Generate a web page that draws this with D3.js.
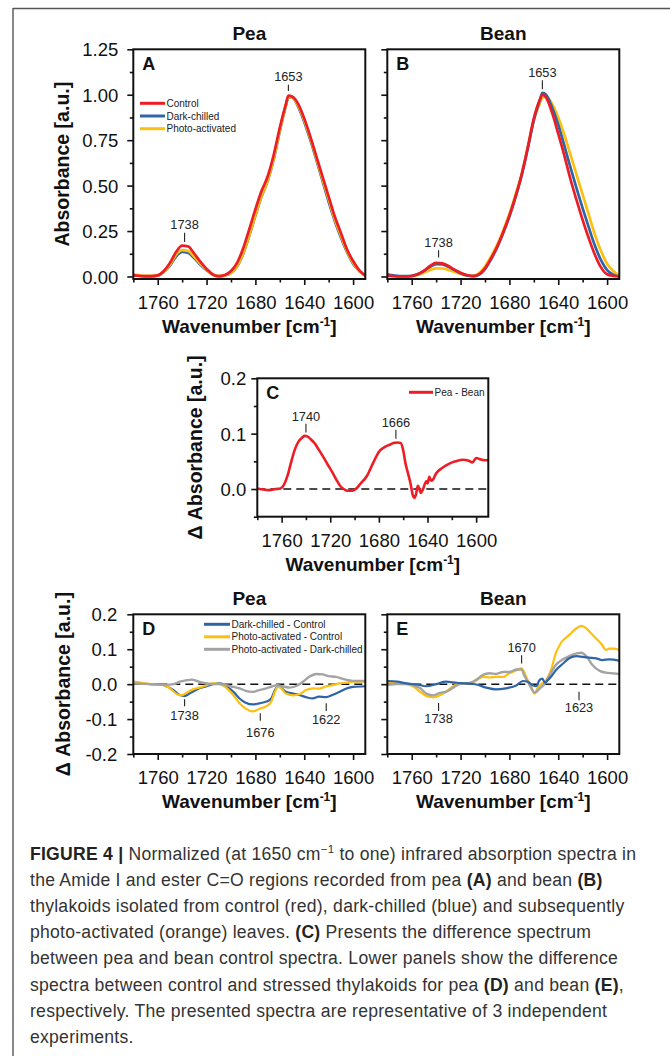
<!DOCTYPE html>
<html>
<head>
<meta charset="utf-8">
<script src="https://cdn.jsdelivr.net/npm/d3@7"></script>
<style>
body{margin:0;background:#fff;}
svg{display:block;}
text{font-family:"Liberation Sans",Arial,Helvetica,sans-serif;}
</style>
</head>
<body>
<svg id="fig" width="670" height="1056"></svg>
<script>
// ---------- data ----------
const wnAB = [1780,1775,1770,1765,1760,1755,1750,1745,1740,1735,1730,1725,1720,1715,1710,1705,1700,1695,1690,1685,
              1680,1675,1670,1665,1660,1655,1653,1650,1645,1640,1635,1630,1625,1620,1615,1610,1605,1600,1595,1590];

// A - pea
const peaControl = [.008,.004,.002,.002,.006,.03,.075,.135,.17,.165,.125,.08,.042,.012,.002,.008,.03,.075,.155,.26,
                    .37,.47,.55,.67,.82,.95,.995,.99,.95,.87,.77,.66,.55,.44,.33,.24,.15,.085,.035,.005];
const peaDark    = [.006,.003,.001,.001,.005,.025,.06,.11,.135,.13,.1,.065,.035,.01,.001,.006,.02,.055,.125,.225,
                    .335,.44,.525,.645,.8,.94,.985,.985,.935,.85,.75,.64,.525,.41,.305,.215,.135,.07,.03,.005];
const peaPhoto   = [.01,.006,.003,.003,.006,.027,.065,.12,.145,.14,.108,.07,.038,.011,.002,.006,.02,.057,.128,.228,
                    .338,.443,.528,.65,.805,.943,.988,.985,.94,.86,.76,.65,.535,.425,.315,.225,.14,.075,.03,.005];
// B - bean
const beanControl = [.005,.002,0,0,.002,.012,.032,.058,.075,.072,.058,.038,.02,.008,.002,.012,.045,.1,.165,.245,
                     .335,.44,.56,.71,.87,.975,1.0,.985,.9,.785,.665,.535,.42,.31,.21,.12,.05,.012,.003,0];
const beanDark    = [.012,.006,.002,.002,.004,.013,.03,.053,.068,.066,.053,.035,.018,.006,.002,.01,.04,.095,.16,.24,
                     .33,.435,.555,.7,.86,.97,1.01,1.0,.93,.835,.72,.6,.485,.375,.27,.17,.09,.035,.01,0];
const beanPhoto   = [.004,.002,0,0,.002,.008,.02,.035,.045,.044,.036,.025,.014,.006,.003,.018,.055,.11,.175,.255,
                     .345,.45,.565,.71,.86,.955,.985,.99,.95,.875,.78,.67,.56,.45,.34,.23,.14,.07,.03,.005];

// C - pea minus bean (control)
const peaMinusBean = [[1780,.001],[1775,-.001],[1770,-.002],[1765,0],[1761,.001],[1758,.008],[1755,.025],[1752,.05],
  [1749,.072],[1746,.086],[1743,.093],[1741,.096],[1739,.095],[1736,.09],[1733,.083],[1730,.073],[1726,.059],
  [1722,.044],[1718,.029],[1715,.017],[1712,.006],[1709,0],[1706,-.003],[1702,-.003],[1699,0],[1695,.01],
  [1690,.023],[1685,.046],[1680,.067],[1675,.076],[1671,.08],[1668,.083],[1665,.084],[1662,.083],[1660,.07],
  [1658,.045],[1656,.028],[1654,.01],[1652,-.012],[1651,-.016],[1649.5,-.01],[1648,.006],[1647,.002],
  [1645.5,-.007],[1644,-.002],[1641,.014],[1640,.01],[1638.5,.022],[1637,.015],[1635.5,.017],[1633,.028],
  [1628,.038],[1622,.046],[1617,.05],[1611,.053],[1606,.051],[1603,.048],[1600,.056],[1597,.054],[1593,.052],[1590,.052]];

// D - pea difference spectra
const peaDarkMinusControl = [[1780,.007],[1766,0],[1758,0],[1753,-.006],[1747,-.017],[1742,-.031],[1738,-.034],
  [1734,-.027],[1728,-.015],[1720,-.006],[1715,0],[1709,.002],[1704,-.006],[1698,-.022],[1693,-.041],[1688,-.053],
  [1682,-.058],[1677,-.055],[1671,-.05],[1667,-.041],[1664,-.017],[1661.6,-.006],[1659,-.01],[1655,-.022],
  [1649,-.027],[1644,-.031],[1638,-.038],[1633,-.041],[1628,-.036],[1622,-.037],[1617,-.031],[1611,-.022],
  [1606,-.013],[1600,-.008],[1590,-.006]];
const peaPhotoMinusControl = [[1780,.007],[1766,0],[1755,-.003],[1750,-.012],[1745,-.027],[1740.5,-.032],
  [1736.5,-.025],[1731,-.015],[1726,-.01],[1720,-.003],[1715,.002],[1709,0],[1704,-.01],[1698,-.032],[1693,-.055],
  [1688,-.07],[1682,-.078],[1677,-.071],[1671,-.063],[1667,-.05],[1664,-.022],[1661.6,-.008],[1659,-.012],
  [1655,-.027],[1649,-.032],[1644,-.029],[1638.5,-.017],[1633,-.012],[1628,-.013],[1622,-.006],[1617,-.003],
  [1611,.002],[1606,.004],[1600,.007],[1590,.007]];
const peaPhotoMinusDark = [[1780,.002],[1766,0],[1753,-.002],[1747,0],[1742,.007],[1736.5,.011],[1732,.013],
  [1728,.009],[1723,.004],[1715,0],[1709,0],[1704,-.003],[1698,-.008],[1693,-.012],[1688,-.019],[1682,-.022],
  [1677,-.017],[1671,-.012],[1666,-.006],[1662,-.003],[1658,-.006],[1652,-.01],[1647,-.006],[1641,.007],
  [1636,.021],[1630,.029],[1625,.028],[1620,.023],[1614,.021],[1609,.016],[1603,.011],[1598,.009],[1590,.009]];

// E - bean difference spectra
const beanDarkMinusControl = [[1780,.009],[1772,.007],[1764,.002],[1756,-.001],[1748,-.006],[1740,0],[1732,.007],
  [1723,.004],[1715,.002],[1707,-.001],[1699,-.01],[1691,-.015],[1683,-.012],[1674,-.003],[1669,.009],[1665,.007],
  [1661,-.003],[1658,-.006],[1655.4,.011],[1653,.016],[1651,.004],[1648.6,.011],[1646,.021],[1642,.04],[1636,.059],
  [1631,.074],[1625,.08],[1620,.078],[1615,.076],[1609,.074],[1604,.069],[1598,.071],[1590,.067]];
const beanPhotoMinusControl = [[1780,.007],[1772,.002],[1764,0],[1759,-.006],[1753,-.022],[1748,-.034],[1742,-.038],
  [1737,-.032],[1732,-.022],[1726,-.006],[1721,.002],[1712,.002],[1707,.011],[1702,.021],[1696,.019],[1691,.021],
  [1685,.021],[1680,.031],[1674,.04],[1670,.045],[1668,.035],[1665,.011],[1662,-.008],[1659.5,-.027],[1657,-.012],
  [1654,0],[1650,.011],[1646,.04],[1642,.088],[1638,.117],[1631,.141],[1625,.16],[1621,.167],[1617,.16],
  [1613,.145],[1609,.131],[1604,.112],[1601,.098],[1598,.102],[1595,.102],[1590,.098]];
const beanPhotoMinusDark = [[1780,-.003],[1772,0],[1764,0],[1759,-.003],[1753,-.012],[1748,-.027],[1742,-.032],
  [1737,-.025],[1732,-.022],[1726,-.01],[1721,0],[1712,.004],[1707,.013],[1702,.026],[1696,.031],[1691,.029],
  [1685,.035],[1680,.035],[1674,.042],[1670,.042],[1668,.026],[1665,.007],[1662,-.012],[1659.5,-.025],[1655,-.012],
  [1651,.002],[1647,.026],[1642,.055],[1636,.071],[1631,.08],[1625,.088],[1621,.09],[1617,.08],[1612,.055],
  [1606,.038],[1601,.033],[1595,.031],[1590,.029]];

// tick values
const xMajor = [1760,1720,1680,1640,1600];
const xMinor = [1780,1740,1700,1660,1620];
const absMajor = [0,0.25,0.5,0.75,1.0,1.25];
const absMinor = [0.125,0.375,0.625,0.875,1.125];
const cMajor = [0,0.1,0.2];
const cMinor = [-0.05,0.05,0.15];
const deMajor = [-0.2,-0.1,0,0.1,0.2];
const deMinor = [-0.15,-0.05,0.05,0.15];

// peak labels: [label wavenumber, tick from, tick to, text baseline] (y in data units)
const peaksA = [[1653,1.02,1.055,1.075],[1738,0.19,0.24,0.26]];
const peaksB = [[1653,1.03,1.08,1.095],[1738,0.105,0.145,0.162]];
const peaksC = [[1740,0.102,0.118,0.122],[1666,0.091,0.107,0.112]];
const peaksD = [[1738,-0.043,-0.063,-0.103],[1676,-0.083,-0.105,-0.151],[1622,-0.055,-0.077,-0.113]];
const peaksE = [[1670,0.083,0.059,0.093],[1738,-0.054,-0.077,-0.111],[1623,-0.022,-0.046,-0.08]];

const RED = "#ee1c24", BLUE = "#2f65a7", YELLOW = "#fdc010", GRAY = "#a3a3a3";

const svg = d3.select("#fig");
const zip = vals => wnAB.map((w, i) => [w, vals[i]]);

// frame of the figure
svg.append("line").attr("x1", 13).attr("x2", 670).attr("y1", 8.5).attr("y2", 8.5)
  .attr("stroke", "#555").attr("stroke-width", 1.4);
svg.append("line").attr("x1", 13).attr("x2", 13).attr("y1", 8).attr("y2", 1056)
  .attr("stroke", "#555").attr("stroke-width", 1.4);

let clipId = 0;
function panel(p){
  const x = d3.scaleLinear().domain([1780, 1590]).range([p.left, p.left + p.w]);
  const y = d3.scaleLinear().domain(p.yDomain).range([p.top + p.h, p.top]);
  const g = svg.append("g");
  const bottom = p.top + p.h;

  // x axis
  const xa = g.append("g").attr("transform", `translate(0,${bottom})`)
    .call(d3.axisBottom(x).tickValues(xMajor).tickSize(6).tickSizeOuter(0).tickFormat(d3.format("d")));
  g.append("g").attr("transform", `translate(0,${bottom})`)
    .call(d3.axisBottom(x).tickValues(xMinor).tickSize(3.5).tickSizeOuter(0).tickFormat(""));
  // y axis (hyphen minus like the original)
  const ya = g.append("g").attr("transform", `translate(${p.left},0)`)
    .call(d3.axisLeft(y).tickValues(p.yMajor).tickSize(6).tickSizeOuter(0)
      .tickFormat(p.yLabels ? (d => d.toFixed(p.yDec)) : ""));
  g.append("g").attr("transform", `translate(${p.left},0)`)
    .call(d3.axisLeft(y).tickValues(p.yMinor).tickSize(3.5).tickSizeOuter(0).tickFormat(""));
  g.selectAll(".domain").remove();
  g.selectAll(".tick line").attr("stroke", "#111").attr("stroke-width", 1.6);
  g.selectAll(".tick text").attr("font-size", 18.5).attr("fill", "#111")
    .attr("font-family", '"Liberation Sans",Arial,sans-serif');
  xa.selectAll(".tick text").attr("y", 30).attr("dy", 0);
  ya.selectAll(".tick text").attr("x", -p.yGap).attr("dy", "0.36em");

  // clip
  const cid = "clip" + (clipId++);
  g.append("clipPath").attr("id", cid).append("rect")
    .attr("x", p.left).attr("y", p.top).attr("width", p.w).attr("height", p.h);

  if (p.zero){
    g.append("line").attr("x1", p.left).attr("x2", p.left + p.w).attr("y1", y(0)).attr("y2", y(0))
      .attr("stroke", "#111").attr("stroke-width", 1.5).attr("stroke-dasharray", "8,5");
  }

  const line = d3.line().x(d => x(d[0])).y(d => y(d[1])).curve(d3.curveMonotoneX);
  const lg = g.append("g").attr("clip-path", `url(#${cid})`);
  p.series.forEach(s => {
    lg.append("path").datum(s.data).attr("d", line).attr("fill", "none")
      .attr("stroke", s.color).attr("stroke-width", s.sw || 2.7).attr("stroke-linejoin", "round");
  });

  // frame
  g.append("rect").attr("x", p.left).attr("y", p.top).attr("width", p.w).attr("height", p.h)
    .attr("fill", "none").attr("stroke", "#111").attr("stroke-width", 2);

  // peak labels
  p.peaks.forEach(([wn, t1, t2, tb]) => {
    g.append("line").attr("x1", x(wn)).attr("x2", x(wn)).attr("y1", y(t1)).attr("y2", y(t2))
      .attr("stroke", "#222").attr("stroke-width", 1.1);
    g.append("text").attr("x", x(wn)).attr("y", y(tb)).attr("text-anchor", "middle")
      .attr("font-size", 12.8).attr("fill", "#222").text(wn);
  });

  // panel letter
  g.append("text").attr("x", p.left + 9).attr("y", p.top + 21).attr("font-size", 18)
    .attr("font-weight", "bold").attr("fill", "#111").text(p.letter);

  // title
  if (p.title){
    g.append("text").attr("x", p.left + p.w / 2).attr("y", p.top - 9.5).attr("text-anchor", "middle")
      .attr("font-size", 19).attr("font-weight", "bold").attr("fill", "#111").text(p.title);
  }
  // x title
  const xt = g.append("text").attr("x", p.left + p.w / 2).attr("y", bottom + 54).attr("text-anchor", "middle")
    .attr("font-size", 19).attr("font-weight", "bold").attr("fill", "#111");
  xt.append("tspan").text("Wavenumber [cm");
  xt.append("tspan").attr("font-size", 12).attr("dy", -7).text("-1");
  xt.append("tspan").attr("dy", 7).text("]");
  // y title
  if (p.yTitle){
    const cy = p.top + p.h / 2;
    g.append("text").attr("transform", `translate(${p.yTitleX},${cy}) rotate(-90)`).attr("text-anchor", "middle")
      .attr("font-size", 19.5).attr("font-weight", "bold").attr("fill", "#111").text(p.yTitle);
  }
  // legend
  if (p.legend){
    const L = p.legend;
    L.items.forEach((it, i) => {
      const ly = p.top + L.dy + i * L.step;
      g.append("line").attr("x1", p.left + L.dx).attr("x2", p.left + L.dx + L.len).attr("y1", ly).attr("y2", ly)
        .attr("stroke", it.color).attr("stroke-width", 3);
      g.append("text").attr("x", p.left + L.dx + L.len + 1.5).attr("y", ly).attr("dy", "0.35em")
        .attr("font-size", 10).attr("fill", "#222").text(it.name);
    });
  }
}

const W = 232;
panel({left: 133.3, top: 49.3, w: W, h: 229.7, yDomain: [-0.0138, 1.25], yMajor: absMajor, yMinor: absMinor,
  yLabels: true, yDec: 2, yGap: 15, letter: "A", title: "Pea", yTitle: "Absorbance [a.u.]", yTitleX: 69,
  series: [{data: zip(peaDark), color: BLUE}, {data: zip(peaPhoto), color: YELLOW}, {data: zip(peaControl), color: RED}],
  peaks: peaksA,
  legend: {dx: 6.7, dy: 54, step: 12.7, len: 25,
    items: [{name: "Control", color: RED}, {name: "Dark-chilled", color: BLUE}, {name: "Photo-activated", color: YELLOW}]}});

panel({left: 387.3, top: 49.3, w: W, h: 229.7, yDomain: [-0.0138, 1.25], yMajor: absMajor, yMinor: absMinor,
  yLabels: false, yGap: 15, letter: "B", title: "Bean",
  series: [{data: zip(beanPhoto), color: YELLOW}, {data: zip(beanDark), color: BLUE}, {data: zip(beanControl), color: RED}],
  peaks: peaksB});

panel({left: 257.3, top: 378.3, w: 231, h: 138.4, yDomain: [-0.05, 0.2], yMajor: cMajor, yMinor: cMinor,
  yLabels: true, yDec: 1, yGap: 11, letter: "C", yTitle: "\u0394 Absorbance [a.u.]", yTitleX: 202, zero: true,
  series: [{data: peaMinusBean, color: RED, sw: 2.6}],
  peaks: peaksC,
  legend: {dx: 151.7, dy: 14, step: 12, len: 24, items: [{name: "Pea - Bean", color: RED}]}});

panel({left: 133.3, top: 614.3, w: W, h: 139.7, yDomain: [-0.2, 0.2], yMajor: deMajor, yMinor: deMinor,
  yLabels: true, yDec: 1, yGap: 16, letter: "D", title: "Pea", yTitle: "\u0394 Absorbance [a.u.]", yTitleX: 70,
  zero: true,
  series: [{data: peaDarkMinusControl, color: BLUE, sw: 2.2}, {data: peaPhotoMinusControl, color: YELLOW, sw: 2.2},
           {data: peaPhotoMinusDark, color: GRAY, sw: 2.4}],
  peaks: peaksD,
  legend: {dx: 70.7, dy: 10, step: 12.5, len: 26,
    items: [{name: "Dark-chilled - Control", color: BLUE}, {name: "Photo-activated - Control", color: YELLOW},
            {name: "Photo-activated - Dark-chilled", color: GRAY}]}});

panel({left: 387.3, top: 614.3, w: W, h: 139.7, yDomain: [-0.2, 0.2], yMajor: deMajor, yMinor: deMinor,
  yLabels: false, yGap: 16, letter: "E", title: "Bean", zero: true,
  series: [{data: beanPhotoMinusControl, color: YELLOW, sw: 2.2}, {data: beanPhotoMinusDark, color: GRAY, sw: 2.4},
           {data: beanDarkMinusControl, color: BLUE, sw: 2.2}],
  peaks: peaksE});

// ---------- caption ----------
const captionLines = [
  [["FIGURE 4 |", "b"], [" Normalized (at 1650 cm"], ["\u22121", "sup"], [" to one) infrared absorption spectra in", "after"]],
  [["the Amide I and ester C=O regions recorded from pea "], ["(A)", "b"], [" and bean "], ["(B)", "b"]],
  [["thylakoids isolated from control (red), dark-chilled (blue) and subsequently"]],
  [["photo-activated (orange) leaves. "], ["(C)", "b"], [" Presents the difference spectrum"]],
  [["between pea and bean control spectra. Lower panels show the difference"]],
  [["spectra between control and stressed thylakoids for pea "], ["(D)", "b"], [" and bean "], ["(E)", "b"], [","]],
  [["respectively. The presented spectra are representative of 3 independent"]],
  [["experiments."]]
];

const cap = svg.append("g");
const capTexts = captionLines.map((parts, i) => {
  const t = cap.append("text").attr("x", 30).attr("y", 859.5 + i * 26.2)
    .attr("font-size", 17.6).attr("fill", "#333");
  parts.forEach(([s, k]) => {
    const ts = t.append("tspan").text(s);
    if (k === "b") ts.attr("font-weight", "bold").attr("fill", "#222");
    if (k === "sup") ts.attr("font-size", 11.5).attr("dy", -6.5);
    if (k === "after") ts.attr("dy", 6.5);
  });
  return t;
});
// one common letter spacing, fitted on the first line (it ends near x = 636)
const first = capTexts[0];
const ls = ((636 - 30) - first.node().getComputedTextLength()) / (first.text().length - 1);
capTexts.forEach(t => t.attr("letter-spacing", ls));
</script>
</body>
</html>
